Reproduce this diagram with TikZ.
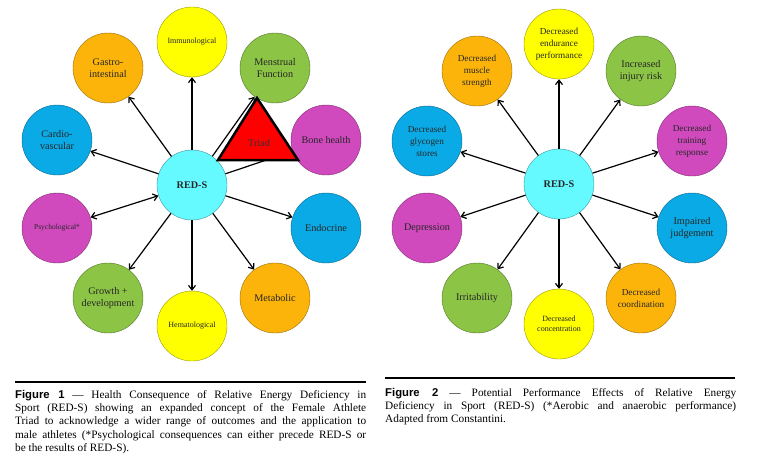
\documentclass[tikz,border=0pt]{standalone}
\usepackage{fontspec}
\setmainfont{Liberation Serif}
\newfontfamily\capsans{Liberation Sans}
\usetikzlibrary{arrows.meta}

\definecolor{redscyan}{RGB}{100,250,255}
\definecolor{redsyellow}{RGB}{255,255,0}
\definecolor{redsorange}{RGB}{252,180,10}
\definecolor{redsgreen}{RGB}{140,196,70}
\definecolor{redsblue}{RGB}{10,170,230}
\definecolor{redsmagenta}{RGB}{208,74,190}

\tikzset{
  effect/.style={circle, draw=#1!60!black, fill=#1, minimum size=70pt, inner sep=1pt,
    align=center, text=black!85, font=\fontsize{10.2}{12}\selectfont},
  core/.style={effect=redscyan, font=\fontsize{10.2}{12}\selectfont\bfseries},
  smalltext/.style={font=\fontsize{8}{10}\selectfont},
  midtext/.style={font=\fontsize{9.2}{12}\selectfont},
  link/.style={->, line width=1.2pt},
  capbox/.style={anchor=north west, inner sep=0pt, text width=351pt, align=justify,
    font=\fontsize{11.3}{13.3}\selectfont},
}

\begin{document}
\begin{tikzpicture}[x=1pt, y=-1pt, >={Straight Barb[length=4.5pt,width=7pt]}]
\useasboundingbox (0,0) rectangle (763,459);

% 图1：健康后果
\node[core] (reds1) at (192,185) {RED-S};
\node[effect=redsyellow, smalltext] (immuno) at (192,42) {Immunological};
\node[effect=redsgreen] (mens) at (275,68) {Menstrual\\Function};
\node[effect=redsorange] (gastro) at (108,68) {Gastro-\\intestinal};
\node[effect=redsblue] (cardio) at (57,140) {Cardio-\\vascular};
\node[effect=redsmagenta] (bone) at (326,140) {Bone health};
\node[effect=redsmagenta, font=\fontsize{7.5}{9}\selectfont] (psych) at (57,228) {Psychological*};
\node[effect=redsblue] (endo) at (326,228) {Endocrine};
\node[effect=redsgreen] (growth) at (108,298) {Growth +\\development};
\node[effect=redsorange] (metab) at (275,298) {Metabolic};
\node[effect=redsyellow, smalltext] (hema) at (192,326) {Hematological};

\foreach \n in {immuno,mens,gastro,cardio,bone,endo,growth,metab,hema}
  \draw[link] (reds1) -- (\n);
\draw[link, <->] (reds1) -- (psych);

% 三联征
\draw[line width=2.5pt, fill=red, line join=miter] (257,98) -- (218,160) -- (298,160) -- cycle;
\node[text=black!80, font=\fontsize{10.2}{12}\selectfont] (triad) at (259,143) {Triad};

% 图2：运动表现
\node[core] (reds2) at (559,184) {RED-S};
\node[effect=redsyellow, midtext] (endur) at (559,44) {Decreased\\endurance\\performance};
\node[effect=redsorange, midtext] (muscle) at (477,71) {Decreased\\muscle\\strength};
\node[effect=redsgreen] (injury) at (641,71) {Increased\\injury risk};
\node[effect=redsblue, midtext] (glyco) at (427,141) {Decreased\\glycogen\\stores};
\node[effect=redsmagenta, midtext] (train) at (692,141) {Decreased\\training\\response};
\node[effect=redsmagenta] (depress) at (427,228) {Depression};
\node[effect=redsblue] (judge) at (692,228) {Impaired\\judgement};
\node[effect=redsgreen] (irrit) at (477,298) {Irritability};
\node[effect=redsorange, midtext] (coord) at (641,298) {Decreased\\coordination};
\node[effect=redsyellow, smalltext] (concen) at (559,324) {Decreased\\concentration};

\foreach \n in {endur,muscle,injury,glyco,train,depress,judge,irrit,coord,concen}
  \draw[link] (reds2) -- (\n);

% 图注
\draw[line width=2pt] (15,382) -- (366,382);
\node[capbox] (cap1) at (15,390) {{\capsans\bfseries Figure 1} \textemdash{} Health Consequence of Relative Energy Deficiency in\linebreak
Sport (RED-S) showing an expanded concept of the Female Athlete\linebreak
Triad to acknowledge a wider range of outcomes and the application to\linebreak
male athletes (*Psychological consequences can either precede RED-S or\linebreak
be the results of RED-S).};

\draw[line width=2pt] (385,378) -- (735,378);
\node[capbox] (cap2) at (385,388) {{\capsans\bfseries Figure 2} \textemdash{} Potential Performance Effects of Relative Energy\linebreak
Deficiency in Sport (RED-S) (*Aerobic and anaerobic performance)\linebreak
Adapted from Constantini.};
\end{tikzpicture}
\end{document}
